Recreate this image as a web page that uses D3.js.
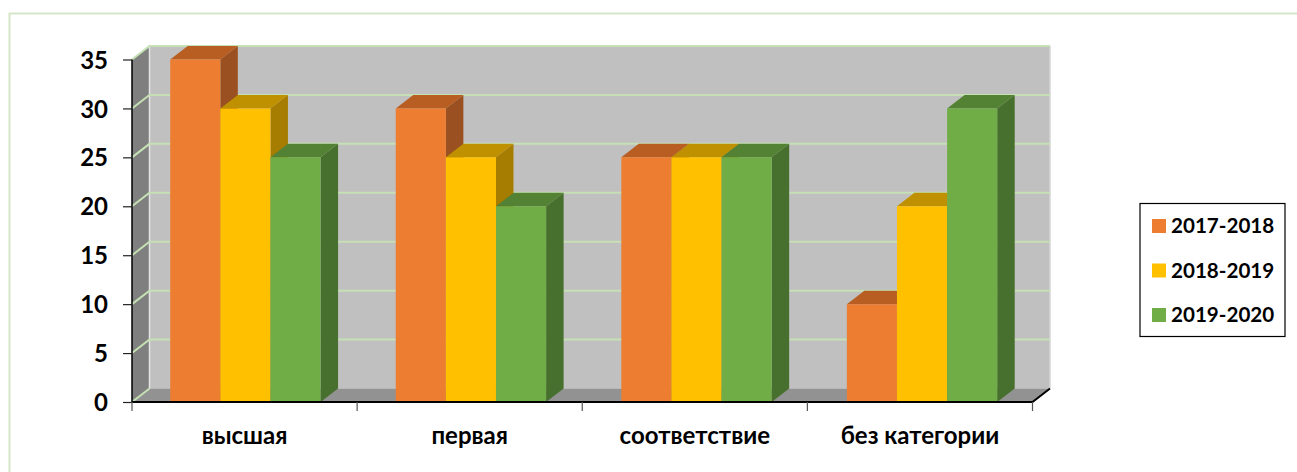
<!DOCTYPE html>
<html><head><meta charset="utf-8">
<script src="https://cdn.jsdelivr.net/npm/d3@7/dist/d3.min.js"></script>
<style>html,body{margin:0;padding:0;background:#fff}svg{display:block}
text{font-family:"Lato","Open Sans",sans-serif;font-weight:700;fill:#000}</style>
</head><body><svg id="c" width="1297" height="472"></svg>
<script>
const categories = ["высшая","первая","соответствие","без категории"];
const seriesNames = ["2017-2018","2018-2019","2019-2020"];
const v2017 = [35,30,25,10];
const v2018 = [30,25,25,20];
const v2019 = [25,20,25,30];
const yTicks = [0,5,10,15,20,25,30,35];
const fronts = ["#ed7d31","#ffc000","#70ad47"];
const tops = ["#b85e22","#bf9000","#548235"];
const sides = ["#9a5020","#a67d00","#476f2d"];

const W=1297,H=472, dx=17.5, dy=13.5;
const svg=d3.select("#c");
const xAxisScale=d3.scaleBand().domain(categories).range([132,1032.5]).paddingInner(1/3).paddingOuter(1/6);
const x=d3.scaleBand().domain(categories).range([132.6,1034.8]).paddingInner(1/3).paddingOuter(1/6);
const xs=d3.scaleBand().domain(seriesNames).range([0,x.bandwidth()]);
const y=d3.scaleLinear().domain([0,35]).range([402,59.5]);
const y0=y(0), yT=y(35);
const xL=xAxisScale.range()[0], xR=xAxisScale.range()[1];
const poly=(pts,fill,stroke)=>svg.append("polygon").attr("points",pts.map(p=>p.join(",")).join(" ")).attr("fill",fill).attr("stroke",stroke||"none");

// frame
svg.append("path").attr("d",`M9.5,${H}V13.5H${W}`).attr("fill","none").attr("stroke","#d5e5c8").attr("stroke-width",2);

// walls
poly([[xL+dx,yT-dy],[xR+dx,yT-dy],[xR+dx,y0-dy],[xL+dx,y0-dy]],"#c0c0c0");
poly([[xL,yT],[xL+dx,yT-dy],[xL+dx,y0-dy],[xL,y0]],"#7f7f7f");
poly([[xL,y0],[xL+dx,y0-dy],[xR+dx,y0-dy],[xR,y0]],"#929292");
svg.append("line").attr("x1",xL+dx).attr("x2",xL+dx).attr("y1",yT-dy).attr("y2",y0-dy).attr("stroke","#e4e4e4").attr("stroke-width",1.5);
svg.append("line").attr("x1",xR+dx).attr("x2",xR+dx).attr("y1",yT-dy).attr("y2",y0-dy).attr("stroke","#d6d6d6").attr("stroke-width",1.5);

// gridlines
const grid=svg.append("g").attr("fill","none").attr("stroke","#c5e0b4").attr("stroke-width",2);
yTicks.forEach(t=>{
  grid.append("path").attr("d",`M${xL},${y(t)}L${xL+dx},${y(t)-dy}H${t===0?xL+dx:xR+dx}`);
});

// bars
const allValues=[v2017,v2018,v2019];
categories.forEach((c,i)=>{
  seriesNames.forEach((s,k)=>{
    const v=allValues[k][i];
    const a=x(c)+xs(s), b=a+xs.bandwidth(), t=y(v);
    poly([[b,t],[b+dx,t-dy],[b+dx,y0-dy],[b,y0]],sides[k]);
    poly([[a,t],[a+dx,t-dy],[b+dx,t-dy],[b,t]],tops[k]);
    poly([[a,t],[b,t],[b,y0],[a,y0]],fronts[k]);
  });
});

// y axis
const yAxis=svg.append("g").attr("transform",`translate(${xL},0)`).call(d3.axisLeft(y).tickValues(yTicks).tickSize(9).tickPadding(15).tickFormat(d3.format("d")));
yAxis.select(".domain").attr("stroke","#000").attr("stroke-width",1.5).attr("d",`M0,${yT}V${y0}`);
yAxis.selectAll(".tick line").attr("stroke","#222").attr("stroke-width",1.2);
yAxis.selectAll("text").style("font-size","24px").attr("dy","0.36em");

// x axis
const xAxis=d3.axisBottom(xAxisScale).tickSize(0).tickPadding(25);
const xg=svg.append("g").attr("transform",`translate(0,${y0})`).call(xAxis);
xg.select(".domain").attr("stroke","#000").attr("stroke-width",2).attr("d",`M${xL},0H${xR}L${xR+dx},${-dy}`);
xg.selectAll("text").style("font-size","24px");
const edges=d3.range(categories.length+1).map(i=>xL+i*xAxisScale.step());
svg.append("g").selectAll("line").data(edges).join("line").attr("x1",d=>d).attr("x2",d=>d).attr("y1",y0).attr("y2",y0+9).attr("stroke","#555").attr("stroke-width",1.2);

// legend
svg.append("rect").attr("x",1140).attr("y",203.5).attr("width",145).attr("height",133).attr("fill","#fff").attr("stroke","#000").attr("stroke-width",1.2);
const ly=d3.scalePoint().domain(seriesNames).range([226,315]);
seriesNames.forEach((s,k)=>{
  svg.append("rect").attr("x",1152).attr("y",ly(s)-7).attr("width",14).attr("height",14).attr("fill",fronts[k]);
  svg.append("text").attr("x",1171).attr("y",ly(s)).attr("dy","0.36em").style("font-size","20.6px").text(s);
});
</script></body></html>
